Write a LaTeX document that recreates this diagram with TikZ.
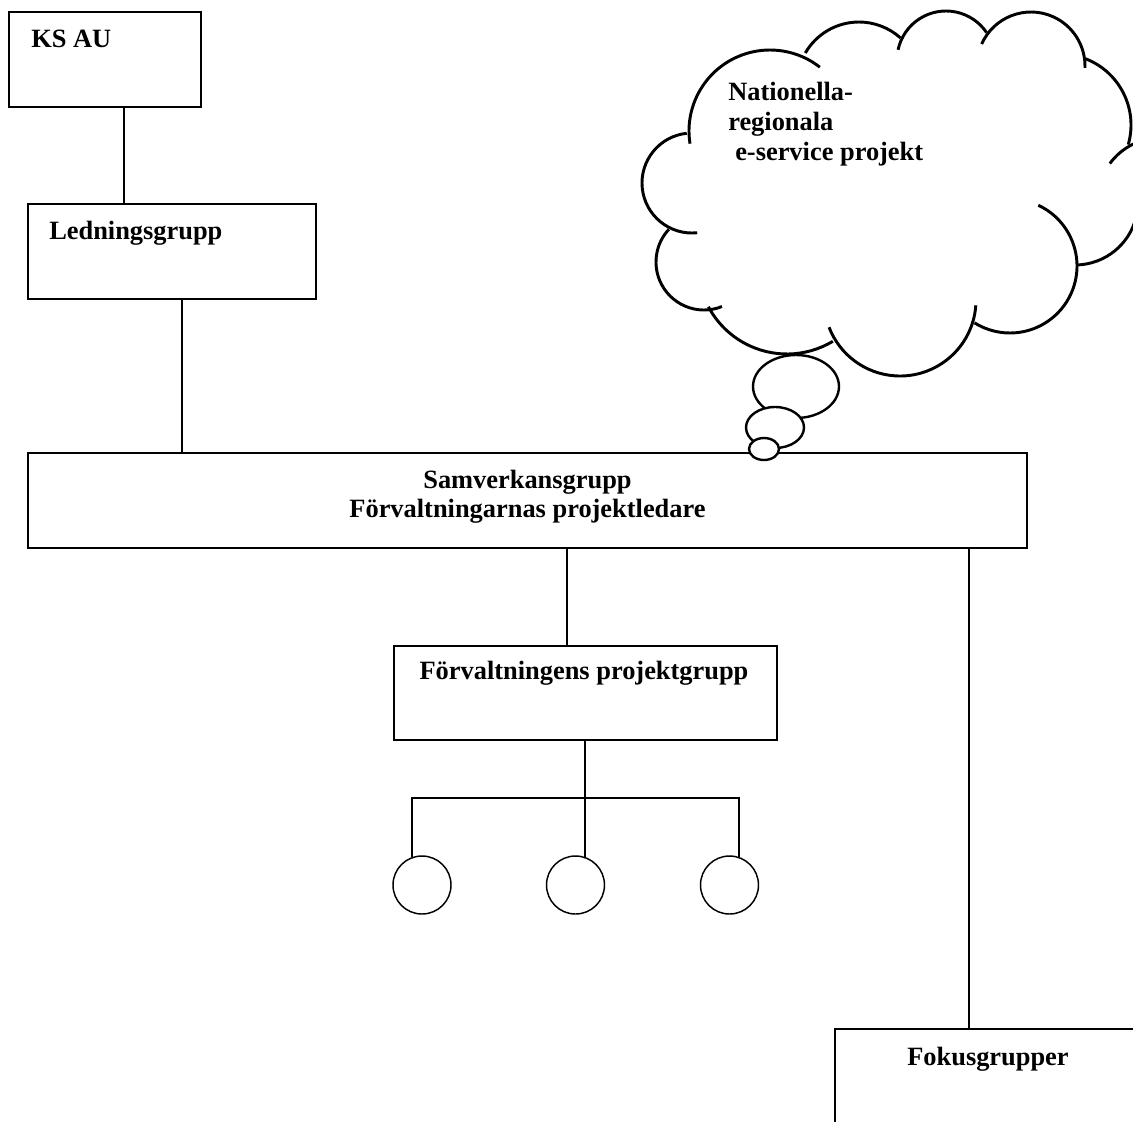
\documentclass[tikz,border=0pt]{standalone}
\usepackage{fontspec}
\setmainfont{Liberation Serif}
\usetikzlibrary{calc}
\begin{document}
\begin{tikzpicture}[x=0.75pt,y=-0.75pt,
  box/.style={draw, line width=1.1pt, rectangle, inner sep=0pt},
  lbl/.style={font=\bfseries\fontsize{19.8}{24}\selectfont, inner sep=0pt},
  conn/.style={line width=1.1pt},
  cloudarc/.style={line width=2.2pt},
  bubble/.style={draw, fill=white, line width=1.8pt},
  member/.style={draw, circle, line width=1.1pt, minimum size=43.5pt, inner sep=0pt}]
\useasboundingbox (0,0) rectangle (1133,1122);
\clip (0,0) rectangle (1133,1122);

% boxes
\node[box, minimum width=144pt, minimum height=71.25pt] (ksau) at (105,59.5) {};
\node[box, minimum width=216pt, minimum height=71.25pt] (ledn) at (172,251.5) {};
\node[box, minimum width=749.25pt, minimum height=71.25pt] (samv) at (527.5,500.5) {};
\node[box, minimum width=287.25pt, minimum height=70.5pt] (forv) at (585.5,693) {};
\node[box, minimum width=229.5pt, minimum height=71.25pt] (fokus) at (988,1076.5) {};

% member circles
\node[member] (c1) at (422,885) {};
\node[member] (c2) at (575.5,885) {};
\node[member] (c3) at (729.5,885) {};

% texts
\node[lbl, anchor=base west] (tksau) at (31,47) {KS AU};
\node[lbl, anchor=base west] (tledn) at (49,239.5) {Ledningsgrupp};
\node[lbl, anchor=base] (tsamv1) at (527.5,488) {Samverkansgrupp};
\node[lbl, anchor=base] (tsamv2) at (527.5,517.5) {Förvaltningarnas projektledare};
\node[lbl, anchor=base] (tforv) at (584,679.5) {Förvaltningens projektgrupp};
\node[lbl, anchor=base] (tfokus) at (988,1065) {Fokusgrupper};
\node[lbl, anchor=base west] (tnat1) at (728,100) {Nationella-};
\node[lbl, anchor=base west] (tnat2) at (728,130) {regionala};
\node[lbl, anchor=base west] (tnat3) at (735,160) {e-service projekt};

% connectors
\coordinate (k1) at ([xshift=14.25pt]ksau.south);
\draw[conn] (k1) -- (k1 |- ledn.north);
\coordinate (k2) at ([xshift=7.5pt]ledn.south);
\draw[conn] (k2) -- (k2 |- samv.north);
\coordinate (k3) at ([xshift=29.6pt]samv.south);
\draw[conn] (k3) -- (k3 |- forv.north);
\coordinate (k4) at ([xshift=331.1pt]samv.south);
\draw[conn] (k4) -- (k4 |- fokus.north);
\coordinate (bar) at (585,798);
\draw[conn] ([xshift=-0.4pt]forv.south) -- ([xshift=-0.4pt]forv.south |- bar);
\draw[conn] (c1.110) -- (c1.110 |- bar) -- (c3.71 |- bar) -- (c3.71);
\draw[conn] (c2.71) -- (c2.71 |- bar);

% cloud
\draw[cloudarc] (770,131) ++(171:81) arc[start angle=171, end angle=308, radius=81];
\draw[cloudarc] (859,84) ++(210:62) arc[start angle=210, end angle=312, radius=62];
\draw[cloudarc] (946,60) ++(192:49) arc[start angle=192, end angle=326, radius=49];
\draw[cloudarc] (1031,66) ++(204:54) arc[start angle=204, end angle=362, radius=54];
\draw[cloudarc] (1060,125) ++(291:71) arc[start angle=291, end angle=376, radius=71];
\draw[cloudarc] (1160,200) ++(216:62) arc[start angle=216, end angle=300, radius=62];
\draw[cloudarc] (1075,202) ++(-10:63) arc[start angle=-10, end angle=89, radius=63];
\draw[cloudarc] (1010,266) ++(-65:67) arc[start angle=-65, end angle=122, radius=67];
\draw[cloudarc] (900,300) ++(4:76) arc[start angle=4, end angle=159, radius=76];
\draw[cloudarc] (787,265) ++(59:89) arc[start angle=59, end angle=152, radius=89];
\draw[cloudarc] (704,262) ++(68:48) arc[start angle=68, end angle=223, radius=48];
\draw[cloudarc] (692,183) ++(84:50) arc[start angle=84, end angle=264, radius=50];

% thought bubbles
\draw[bubble] (796,386.5) ellipse[x radius=43, y radius=31.5];
\draw[bubble] (775,427.5) ellipse[x radius=29, y radius=20.5];
\draw[bubble] (764,449) ellipse[x radius=15, y radius=11];
\end{tikzpicture}
\end{document}
